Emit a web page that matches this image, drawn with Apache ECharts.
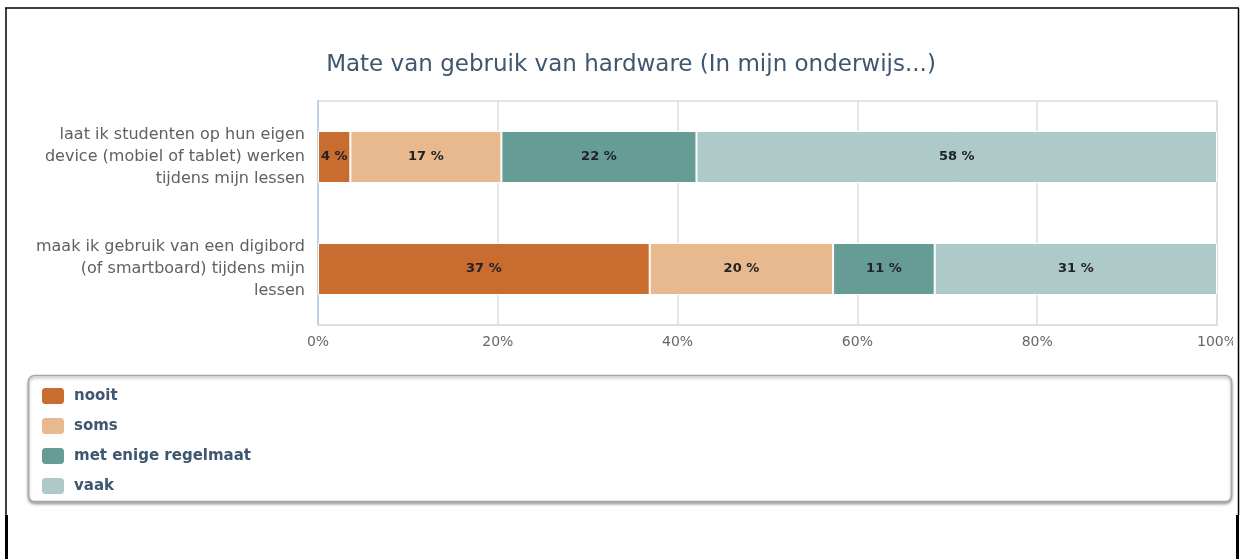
<!DOCTYPE html>
<html>
<head>
<meta charset="utf-8">
<script src="https://cdn.jsdelivr.net/npm/echarts@6/dist/echarts.min.js"></script>
<style>
html,body{margin:0;padding:0;background:#fff;}
#chart{width:1240px;height:559px;}
</style>
</head>
<body>
<div id="chart"></div>
<script>
// vragen (categorieen)
var categories = [
	"laat ik studenten op hun eigen\ndevice (mobiel of tablet) werken\ntijdens mijn lessen",
	"maak ik gebruik van een digibord\n(of smartboard) tijdens mijn\nlessen"
];
// percentages per antwoord
var nooit = [3.6, 36.9];
var soms = [16.8, 20.4];
var regelmaat = [21.7, 11.3];
var vaak = [57.9, 31.4];
var xTicks = [0, 20, 40, 60, 80, 100];

var names = ["nooit", "soms", "met enige regelmaat", "vaak"];
var colors = ["#c86c30", "#e8b88e", "#659c96", "#adcac9"];
var values = [nooit, soms, regelmaat, vaak];

var myChart = echarts.init(document.getElementById("chart"));

var series = names.map(function(name, i){
	return {
		name: name,
		type: "bar",
		stack: "totaal",
		barWidth: 52,
		data: values[i],
		itemStyle: {color: colors[i], borderColor: "#fff", borderWidth: 1},
		label: {
			show: true,
			position: "inside",
			color: "#222",
			fontSize: 13,
			fontWeight: "bold",
			fontFamily: "DejaVu Sans",
			formatter: function(p){ return Math.round(p.value) + " %"; }
		}
	};
});

var option = {
	animation: false,
	title: {
		text: "Mate van gebruik van hardware (In mijn onderwijs...)",
		left: 626,
		textAlign: "center",
		top: 49,
		textStyle: {color: "#3e576f", fontSize: 23, fontWeight: "normal", fontFamily: "DejaVu Sans"}
	},
	grid: {
		left: 318, right: 23, top: 101, bottom: 234,
		show: true, borderColor: "#dcdcdc", borderWidth: 1.5
	},
	xAxis: {
		type: "value",
		min: xTicks[0],
		max: xTicks[xTicks.length - 1],
		interval: xTicks[1] - xTicks[0],
		axisLine: {show: true, lineStyle: {color: "#d6dde6", width: 1.5}},
		axisTick: {show: false},
		splitLine: {lineStyle: {color: "#dcdcdc", width: 1.5}},
		axisLabel: {
			formatter: "{value}%",
			color: "#666",
			fontSize: 14,
			margin: 10,
			fontFamily: "DejaVu Sans"
		}
	},
	yAxis: {
		type: "category",
		inverse: true,
		data: categories,
		axisLine: {lineStyle: {color: "#c0d0e0", width: 2}},
		axisTick: {length: 7, lineStyle: {color: "#c0d0e0", width: 1.5}},
		axisLabel: {
			color: "#606060",
			fontSize: 16,
			lineHeight: 22,
			margin: 13,
			align: "right",
			fontFamily: "DejaVu Sans"
		}
	},
	legend: {
		orient: "vertical",
		left: 40,
		top: 386,
		itemWidth: 24,
		itemHeight: 18,
		itemGap: 10,
		icon: "roundRect",
		padding: 0,
		data: names,
		textStyle: {color: "#3e576f", fontSize: 15, fontWeight: "bold", fontFamily: "DejaVu Sans", padding: [0, 0, 0, 4]}
	},
	graphic: [
		// legend kader
		{type: "rect", z: -1, shape: {x: 28.5, y: 375.5, width: 1203, height: 126, r: 6},
			style: {fill: "#fff", stroke: "#a8a8a8", lineWidth: 1.5, shadowBlur: 3, shadowOffsetY: 2, shadowColor: "rgba(0,0,0,0.35)"}},
		// afgesneden label rechts
		{type: "rect", z: 100, shape: {x: 1233, y: 330, width: 4.5, height: 25}, style: {fill: "#fff"}},
		// zwarte rand
		{type: "line", z: 101, shape: {x1: 5, y1: 8, x2: 1239, y2: 8}, style: {stroke: "#000", lineWidth: 1.5}},
		{type: "line", z: 101, shape: {x1: 6, y1: 8, x2: 6, y2: 515}, style: {stroke: "#000", lineWidth: 1.5}},
		{type: "line", z: 101, shape: {x1: 6.5, y1: 515, x2: 6.5, y2: 559}, style: {stroke: "#000", lineWidth: 3}},
		{type: "line", z: 101, shape: {x1: 1238.5, y1: 8, x2: 1238.5, y2: 515}, style: {stroke: "#000", lineWidth: 1.5}},
		{type: "line", z: 101, shape: {x1: 1237.5, y1: 515, x2: 1237.5, y2: 559}, style: {stroke: "#000", lineWidth: 3}}
	],
	series: series
};
myChart.setOption(option);
</script>
</body>
</html>
